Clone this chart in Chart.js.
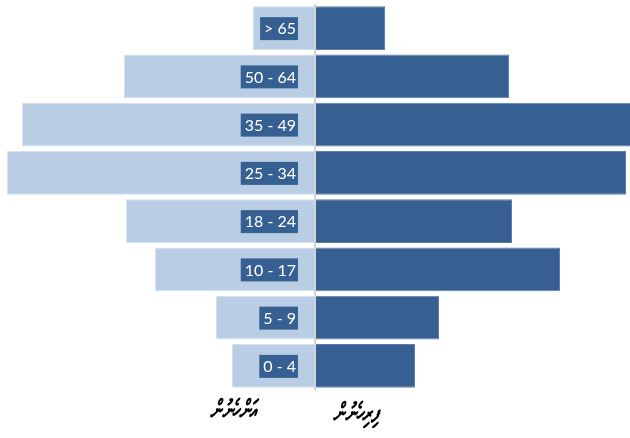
<!DOCTYPE html>
<html>
<head>
<meta charset="utf-8">
<script src="https://cdn.jsdelivr.net/npm/chart.js@4"></script>
<style>
  html, body { margin: 0; padding: 0; background: #fff; }
  #wrap { width: 630px; height: 438px; position: relative; }
</style>
</head>
<body>
<div id="wrap"><canvas id="pyramid"></canvas></div>
<script>
const ageGroups = ["> 65", "50 - 64", "35 - 49", "25 - 34", "18 - 24", "10 - 17", "5 - 9", "0 - 4"];
const women = [6.2, 19.1, 29.3, 30.8, 18.9, 16.0, 9.9, 8.3];
const men = [7.0, 19.4, 31.6, 31.1, 19.7, 24.5, 12.4, 10.0];
const sideLabels = ["އަންހެނުން", "ފިރިހެނުން"];

// labels in dark boxes just left of the centre line, plus centre line and side captions
const pyramidDecor = {
  id: "pyramidDecor",
  afterDatasetsDraw(chart) {
    const ctx = chart.ctx;
    const x = chart.scales.x, y = chart.scales.y;
    const cx = x.getPixelForValue(0);
    ctx.save();
    ctx.strokeStyle = "#d4d4d4";
    ctx.lineWidth = 2;
    ctx.beginPath();
    ctx.moveTo(cx, chart.chartArea.top);
    ctx.lineTo(cx, chart.chartArea.bottom);
    ctx.stroke();

    ctx.font = "16px Lato, 'Open Sans', sans-serif";
    ctx.textBaseline = "middle";
    ctx.textAlign = "right";
    ageGroups.forEach((lab, i) => {
      const yy = y.getPixelForValue(i);
      const w = ctx.measureText(lab).width;
      const right = cx - 17;
      ctx.fillStyle = "#376092";
      ctx.fillRect(right - w - 6, yy - 11, w + 6, 23);
      ctx.fillStyle = "#ffffff";
      ctx.fillText(lab, right - 2, yy + 1);
    });

    // thaana captions, stretched a bit taller than the font draws them
    ctx.fillStyle = "#000";
    ctx.textAlign = "center";
    ctx.font = "italic bold 20px 'DejaVu Sans', sans-serif";
    [[sideLabels[0], -8.2, 412], [sideLabels[1], 4.1, 415]].forEach(([t, v, ty]) => {
      ctx.save();
      ctx.translate(x.getPixelForValue(v), ty);
      ctx.scale(0.82, 1.35);
      ctx.fillText(t, 0, 0);
      ctx.restore();
    });
    ctx.restore();
  }
};

new Chart(document.getElementById("pyramid"), {
  type: "bar",
  data: {
    labels: ageGroups,
    datasets: [
      {
        label: sideLabels[0],
        data: women.map(v => -v),
        backgroundColor: "#b9cde5",
        borderColor: "#d6e1ef",
        borderWidth: 1,
        barPercentage: 0.91,
        categoryPercentage: 1
      },
      {
        label: sideLabels[1],
        data: men,
        backgroundColor: "#376092",
        borderColor: "#5c80ad",
        borderWidth: 1,
        barPercentage: 0.91,
        categoryPercentage: 1
      }
    ]
  },
  options: {
    indexAxis: "y",
    responsive: true,
    maintainAspectRatio: false,
    animation: false,
    layout: { padding: { top: 4, bottom: 48, left: 0, right: 0 } },
    plugins: {
      legend: { display: false },
      tooltip: { enabled: false }
    },
    scales: {
      x: { stacked: true, min: -31.5, max: 31.5, display: false },
      y: { stacked: true, display: false }
    }
  },
  plugins: [pyramidDecor]
});
</script>
</body>
</html>
